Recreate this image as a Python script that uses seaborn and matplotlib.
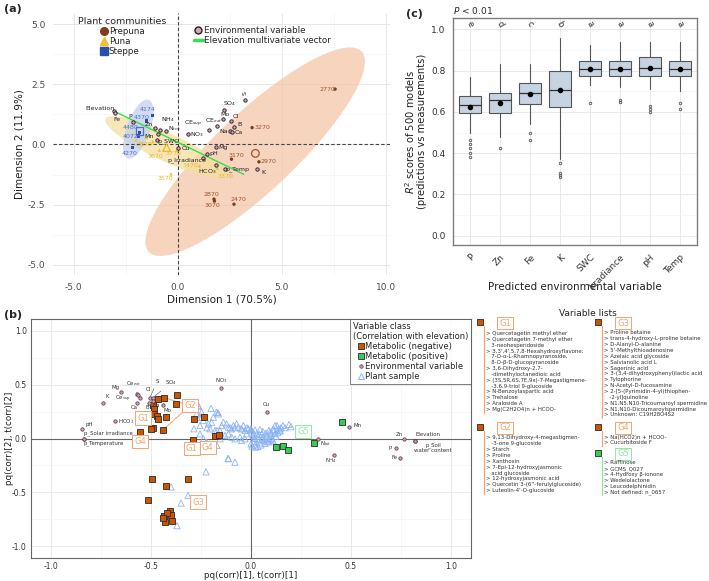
import numpy as np
import pandas as pd
import matplotlib
matplotlib.use("Agg")
import matplotlib.pyplot as plt
import seaborn as sns
from matplotlib.patches import Ellipse
from matplotlib.lines import Line2D
from matplotlib.ticker import MultipleLocator, FormatStrFormatter

# ---------------- panel (a): PCA biplot ----------------
a_env_names = ["Elevation", "Fe", "P", "Zn", "NH$_4$", "N$_{tot}$", "Mn", "p_SWC", "Cu", "Mg",
               "pH", "p_Irradiance", "HCO$_3$", "p_Temp", "K", "NO$_3$", "CE$_{sup}$", "CE$_{ext}$",
               "SO$_4$", "S", "Mo", "Cl", "B", "Na", "Ca"]
a_env_x = [-3.08, -3.0, -2.17, -1.08, -0.85, -0.56, -0.94, -1.0, 0.03, 1.82,
           1.39, 1.2, 1.82, 2.27, 3.81, 0.49, 1.5, 1.9,
           2.22, 3.25, 2.19, 2.54, 2.7, 2.5, 2.6]
a_env_y = [1.39, 1.3, 0.92, 0.67, 0.6, 0.56, 0.42, 0.18, -0.16, -0.09,
           -0.4, -0.56, -0.85, -1.02, -1.02, 0.42, 0.6, 0.78,
           1.43, 1.85, 1.06, 0.98, 0.74, 0.56, 0.52]

a_sample_names = ["2770", "3270", "3170", "2970", "2870", "3070", "2470",
                  "3370", "3470", "3570", "3670", "3770", "3870", "", "",
                  "4174", "4370", "4480", "4072", "4270"]
a_sample_x = [7.56, 3.57, 2.58, 3.9, 1.74, 1.76, 2.7,
              1.9, 1.04, -0.33, -0.89, -0.05, -2.0, -1.5, -1.2,
              -1.21, -1.5, -1.85, -1.9, -2.17]
a_sample_y = [2.3, 0.7, -0.61, -0.72, -2.27, -2.35, -2.48,
              -0.98, -0.89, -1.22, -0.23, -0.25, 0.19, 0.3, 0.12,
              1.2, 0.98, 0.5, 0.35, -0.13]
a_sample_group = ["Prepuna"] * 7 + ["Puna"] * 8 + ["Steppe"] * 5

a_centroid_group = ["Prepuna", "Puna", "Steppe"]
a_centroid_x = [3.73, -0.54, -1.85]
a_centroid_y = [-0.37, -0.13, 0.55]

# confidence ellipses: centre, half axes, angle
a_ell_cx = [3.72, -0.52, -1.9]
a_ell_cy = [-0.3, -0.12, 0.64]
a_ell_a = [6.6, 3.19, 1.32]
a_ell_b = [1.75, 0.6, 0.55]
a_ell_ang = [38.5, -21.6, 66.3]

elev_vec_x = [-3.08, 3.17]
elev_vec_y = [1.39, -1.24]

# ---------------- panel (b): OPLS loadings ----------------
b_env_names = ["pH", "p_Solar irradiance", "p_Temperature", "K", "Mg", "HCO$_3$", "Ce$_{ext}$",
               "Ce$_{sup}$", "Cl", "Ca", "S", "SO$_4$", "B", "Na", "Mo", "NO$_3$", "Cu",
               "Mn", "N$_{tot}$", "NH$_4$", "Zn", "Elevation", "p_Soil\nwater content", "P", "Fe"]
b_env_x = [-0.845, -0.835, -0.835, -0.74, -0.65, -0.68, -0.57,
           -0.565, -0.555, -0.57, -0.505, -0.49, -0.51, -0.49, -0.44, -0.15, 0.08,
           0.49, 0.335, 0.415, 0.765, 0.82, 0.82, 0.725, 0.745]
b_env_y = [0.09, 0.0, 0.0, 0.33, 0.43, 0.16, 0.41,
           0.4, 0.38, 0.33, 0.38, 0.38, 0.33, 0.35, 0.31, 0.47, 0.25,
           0.11, 0.0, -0.15, 0.0, -0.02, -0.02, -0.09, -0.18]

b_neg_x = [-0.465, -0.435, -0.37, -0.375, -0.49, -0.485, -0.485, -0.47, -0.465, -0.425,
           -0.44, -0.49, -0.5, -0.555, -0.285, -0.235, -0.29, -0.18, -0.16,
           -0.495, -0.425, -0.315, -0.515, -0.405, -0.435, -0.40, -0.43, -0.395, -0.42, -0.44]
b_neg_y = [0.37, 0.38, 0.40, 0.32, 0.31, 0.27, 0.23, 0.21, 0.18, 0.20,
           0.08, 0.10, 0.09, 0.06, 0.18, 0.20, -0.01, 0.02, 0.03,
           -0.38, -0.44, -0.38, -0.57, -0.67, -0.72, -0.71, -0.78, -0.77, -0.69, -0.74]
b_pos_x = [0.455, 0.315, 0.125, 0.16, 0.185]
b_pos_y = [0.15, -0.04, -0.08, -0.07, -0.11]

b_plant_x = [-0.263, -0.28, -0.247, -0.272, -0.255, -0.238, -0.213, -0.197, -0.188, -0.172,
             -0.163, -0.205, -0.18, -0.155, -0.147, -0.138, -0.122, -0.113, -0.097, -0.088,
             -0.072, -0.063, -0.047, -0.038, -0.03, -0.022, -0.113, -0.13, -0.147, -0.155,
             -0.097, -0.08, -0.055, -0.047, -0.03, -0.013, -0.285, -0.255, -0.238, -0.222,
             -0.238, -0.113, -0.265, -0.2, -0.165, -0.245, -0.255, -0.22, -0.17, -0.105,
             -0.08, -0.05, -0.02, 0.0, -0.17, -0.235, -0.115, -0.08, -0.225, -0.4,
             -0.315, -0.35, -0.37,
             0.005, 0.01, 0.012, 0.015, 0.02, 0.025, 0.03, 0.035, 0.04, 0.045,
             0.05, 0.055, 0.06, 0.065, 0.07, 0.075, 0.08, 0.085, 0.09, 0.095,
             0.1, 0.105, 0.11, 0.115, 0.12, 0.125, 0.13, 0.135, 0.14, 0.145,
             0.15, 0.02, 0.0, 0.005, 0.035, 0.06, 0.09, 0.11, 0.16, 0.13,
             0.0, 0.045, 0.07, 0.1, 0.02, 0.055, 0.04, 0.08, 0.015, 0.1,
             0.12, 0.145, 0.17, 0.19, 0.2]
b_plant_y = [0.305, 0.275, 0.244, 0.228, 0.197, 0.167, 0.136, 0.151, 0.197, 0.244,
             0.228, 0.09, 0.074, 0.074, 0.12, 0.151, 0.136, 0.105, 0.09, 0.12,
             0.136, 0.105, 0.09, 0.12, 0.074, 0.043, 0.043, 0.028, 0.028, -0.003,
             0.012, -0.003, 0.012, -0.019, -0.003, 0.09, 0.09, 0.043, -0.003, -0.034,
             -0.08, -0.188, 0.30, 0.28, 0.24, 0.2, 0.12, 0.1, 0.075, 0.1,
             0.1, 0.09, 0.1, 0.08, -0.065, -0.065, -0.185, -0.22, -0.31, -0.45,
             -0.53, -0.6, -0.81,
             0.06, 0.03, 0.0, -0.03, -0.06, -0.08, 0.05, 0.02, -0.01, -0.04,
             -0.06, 0.04, 0.01, -0.02, -0.045, 0.05, 0.02, -0.01, -0.03, 0.06,
             0.03, 0.0, -0.02, 0.07, 0.045, 0.02, 0.08, 0.055, 0.09, 0.07,
             0.1, 0.08, -0.05, -0.07, -0.075, 0.065, 0.075, 0.085, 0.12, 0.12,
             0.09, 0.085, 0.0, 0.05, 0.0, -0.01, 0.04, -0.03, 0.045, -0.01,
             0.12, 0.075, 0.1, 0.13, 0.11]

b_group_names = ["G1", "G2", "G4", "G1", "G4", "G3", "G5"]
b_group_x = [-0.54, -0.305, -0.555, -0.297, -0.217, -0.265, 0.262]
b_group_y = [0.19, 0.305, -0.03, -0.096, -0.08, -0.59, 0.068]
b_g2_links_x = [-0.435, -0.44, -0.235]
b_g2_links_y = [0.38, 0.08, 0.20]

# ---------------- panel (c): R2 boxplots ----------------
c_vars = ["P", "Zn", "Fe", "K", "SWC", "Irradiance", "pH", "Temp"]
c_q1 = [0.594, 0.594, 0.64, 0.625, 0.775, 0.775, 0.775, 0.775]
c_med = [0.634, 0.658, 0.69, 0.707, 0.81, 0.81, 0.812, 0.81]
c_q3 = [0.675, 0.69, 0.74, 0.80, 0.848, 0.848, 0.867, 0.848]
c_whislo = [0.50, 0.48, 0.54, 0.37, 0.73, 0.72, 0.71, 0.70]
c_whishi = [0.77, 0.83, 0.83, 0.96, 0.925, 0.94, 0.94, 0.94]
c_mean = [0.625, 0.645, 0.688, 0.705, 0.808, 0.81, 0.812, 0.81]
c_fliers = [[0.465, 0.445, 0.425, 0.40, 0.38], [0.427], [0.50, 0.465],
            [0.35, 0.305, 0.295, 0.285], [0.645], [0.66, 0.65], [0.63, 0.615, 0.60], [0.645, 0.615]]
c_letters = ["e", "d", "c", "b", "a", "a", "a", "a"]

# ---------------- variable lists ----------------
list_g1 = ["> Quercetagetin methyl ether", "> Quercetagetin 7-methyl ether", "   3-neohesperidoside",
           "> 3,3',4',5,7,8-Hexahydroxyflavone;", "   7-O-\u03b1-L-Rhamnopyranoside,",
           "   8-O-\u03b2-D-glucopyranoside", "> 3,6-Dihydroxy-2,7-", "   -dimethyloctanedioic acid",
           "> (3S,5R,6S,7E,9x)-7-Megastigmene-", "   -3,6,9-triol 9-glucoside",
           "> N-Benzoylaspartic acid", "> Trehalose", "> Araloside A", "> Mg(C2H2O4)n + HCOO-"]
list_g2 = ["> 9,13-Dihydroxy-4-megastigmen-", "   -3-one 9-glucoside", "> Starch", "> Proline",
           "> Xanthoxin", "> 7-Epi-12-hydroxyjasmonic", "   acid glucoside", "> 12-hydroxyjasmonic acid",
           "> Quercetin 3-(6''-ferulylglucoside)", "> Luteolin-4'-O-glucoside"]
list_g3 = ["> Proline betaine", "> trans-4-hydroxy-L-proline betaine", "> D-Alanyl-D-alanine",
           "> 5'-Methylthioadenosine", "> Azelaic acid glycoside", "> Salvianolic acid L",
           "> Sagerinic acid", "> 3-(3,4-dihydroxyphenyl)lactic acid", "> Tylophorine",
           "> N-Acetyl-D-fucosamine", "> 2-[5-(Pyrimidin-4-yl)thiophen-", "   -2-yl]quinoline",
           "> N1,N5,N10-Tricoumaroyl spermidine", "> N1,N10-Dicoumaroylspermidine",
           "> Unknown: C19H28O4S2"]
list_g4 = ["> Na(HCO2)n + HCOO-", "> Cucurbitoside F"]
list_g5 = ["> Raffinose", "> GCMS_Q027", "> 4-Hydroxy \u03b2-ionone", "> Wedelolactone",
           "> Leucodelphinidin", "> Not defined: n_0657"]

# ---------------- styling ----------------
sns.set_style("white")
plt.rcParams["font.family"] = ["DejaVu Sans"]
ORANGE = "#CC5500"
GREEN = "#33CC55"
ENV_FC = "#C9A0B4"
ENV_EC = "#5C2E48"
TRI = "#8CB4F5"
comm_pal = {"Prepuna": "#7B3F1F", "Puna": "#F0C030", "Steppe": "#2A4FA8"}
comm_lab = {"Prepuna": "#A0522D", "Puna": "#E8B923", "Steppe": "#4A6FD0"}
comm_ell = {"Prepuna": "#F3C6A8", "Puna": "#F5E0A0", "Steppe": "#C3D0EC"}
comm_mark = {"Prepuna": "o", "Puna": "^", "Steppe": "s"}

W, H = 709, 581
fig = plt.figure(figsize=(W / 100, H / 100), dpi=100)


def rect(l, t, r, b):
    return [l / W, 1 - b / H, (r - l) / W, (b - t) / H]


# ======== panel (a) ========
ax = fig.add_axes(rect(53, 13, 390, 275))
ax.set_xlim(-6.0, 10.2)
ax.set_ylim(-5.42, 5.46)
for s in ax.spines.values():
    s.set_visible(False)
ax.xaxis.set_major_locator(MultipleLocator(5))
ax.xaxis.set_minor_locator(MultipleLocator(2.5))
ax.yaxis.set_major_locator(MultipleLocator(2.5))
ax.yaxis.set_minor_locator(MultipleLocator(1.25))
ax.xaxis.set_major_formatter(FormatStrFormatter("%.1f"))
ax.yaxis.set_major_formatter(FormatStrFormatter("%.1f"))
ax.grid(which="major", color="#E3E3E3", lw=0.6)
ax.grid(which="minor", color="#F2F2F2", lw=0.4)
ax.set_axisbelow(True)
ax.tick_params(which="major", labelsize=6.5, labelcolor="#4D4D4D", length=2, color="#4D4D4D", width=0.5)
ax.tick_params(which="minor", length=0)

for g, cx, cy, ea, eb, ang in zip(a_centroid_group, a_ell_cx, a_ell_cy, a_ell_a, a_ell_b, a_ell_ang):
    ax.add_patch(Ellipse((cx, cy), 2 * ea, 2 * eb, angle=ang, facecolor=comm_ell[g],
                         edgecolor="none", alpha=0.75, zorder=1))

ax.axhline(0, color="#444444", ls=(0, (3, 2)), lw=0.8, zorder=2)
ax.axvline(0, color="#444444", ls=(0, (3, 2)), lw=0.8, zorder=2)

ax.plot(elev_vec_x, elev_vec_y, color="#33E04D", lw=1.0, zorder=3)

df_s = pd.DataFrame({"x": a_sample_x, "y": a_sample_y, "g": a_sample_group})
sns.scatterplot(data=df_s, x="x", y="y", hue="g", style="g", palette=comm_pal, markers=comm_mark,
                s=6, linewidth=0, legend=False, ax=ax, zorder=4)
df_c = pd.DataFrame({"x": a_centroid_x, "y": a_centroid_y, "g": a_centroid_group})
for g, sub in df_c.groupby("g"):
    ax.scatter(sub.x, sub.y, marker=comm_mark[g], s=30, facecolor="none",
               edgecolor=comm_lab[g], linewidth=0.9, zorder=4)

df_e = pd.DataFrame({"x": a_env_x, "y": a_env_y})
sns.scatterplot(data=df_e, x="x", y="y", s=6, color=ENV_FC, edgecolor="#2B1B25",
                linewidth=0.6, legend=False, ax=ax, zorder=5)

a_env_off = [(-14, 3), (2, -6), (-2, 6), (-6, 4), (8, 10), (8, 2), (-9, -2), (11, -1), (7, 0), (7, -1),
             (7, 1), (-16, -2), (-8, -7), (12, 0), (6, -3), (9, 0), (-16, 6), (-4, 5),
             (6, 6), (0, 7), (2, 4), (5, 4), (6, 2), (-6, -1), (7, -1)]
for n, x, y, off in zip(a_env_names, a_env_x, a_env_y, a_env_off):
    rot = 90 if n == "S" else 0
    ax.annotate(n, (x, y), xytext=off, textcoords="offset pixels", ha="center", va="center",
                fontsize=4.5, color="#222222", rotation=rot, zorder=6)

a_sample_off = [(-8, 0), (10, 0), (5, 4), (9, 0), (-3, 5), (-2, -4), (4, 5),
                (8, -8), (-9, 0), (-6, -5), (-4, -6), (-3, -3), (8, -5), (0, 0), (0, 0),
                (-5, 6), (-5, 3), (-9, 5), (-8, 0), (-3, -6)]
for n, x, y, g, off in zip(a_sample_names, a_sample_x, a_sample_y, a_sample_group, a_sample_off):
    if n:
        ax.annotate(n, (x, y), xytext=off, textcoords="offset pixels", ha="center", va="center",
                    fontsize=4.5, color=comm_lab[g], zorder=6)

ax.set_xlabel("Dimension 1 (70.5%)", fontsize=7.5, color="#222222", labelpad=2)
ax.set_ylabel("Dimension 2 (11.9%)", fontsize=7.5, color="#222222", labelpad=2)

h1 = [Line2D([], [], ls="", marker=comm_mark[g], ms=5.5, mfc=comm_pal[g], mec=comm_pal[g]) for g in a_centroid_group]
leg1 = ax.legend(h1, a_centroid_group, title="Plant communities", loc="upper left",
                 bbox_to_anchor=(0.055, 1.01), frameon=False, fontsize=6.3, title_fontsize=6.8,
                 handletextpad=0.1, handlelength=1.0, labelspacing=0.15, borderpad=0.2)
ax.add_artist(leg1)
h2 = [Line2D([], [], ls="", marker="o", ms=5, mfc="#D4A6BB", mec="#2B1B25", mew=1.0),
      Line2D([], [], color="#33E04D", lw=2.5)]
ax.legend(h2, ["Environmental variable", "Elevation multivariate vector"], loc="upper left",
          bbox_to_anchor=(0.4, 0.975), frameon=False, fontsize=6.3, handletextpad=0.2,
          handlelength=1.0, labelspacing=0.15, borderpad=0.2)

# ======== panel (c) ========
axc = fig.add_axes(rect(453, 18, 697, 245))
stats = []
for i in range(len(c_vars)):
    stats.append(dict(med=c_med[i], q1=c_q1[i], q3=c_q3[i], whislo=c_whislo[i],
                      whishi=c_whishi[i], mean=c_mean[i], fliers=c_fliers[i], label=c_vars[i]))
axc.bxp(stats, positions=range(len(c_vars)), widths=0.75, patch_artist=True, showmeans=True,
        showcaps=False,
        boxprops=dict(facecolor="#C6D4E1", edgecolor="#555555", lw=0.8),
        medianprops=dict(color="#333333", lw=0.9),
        whiskerprops=dict(color="#555555", lw=0.8),
        flierprops=dict(marker="o", ms=1.8, mfc="none", mec="#555555", mew=0.6),
        meanprops=dict(marker="o", ms=3, mfc="black", mec="black"))
axc.set_xlim(-0.57, 7.57)
axc.set_ylim(-0.045, 1.055)
axc.yaxis.set_major_locator(MultipleLocator(0.2))
axc.yaxis.set_minor_locator(MultipleLocator(0.1))
axc.yaxis.set_major_formatter(FormatStrFormatter("%.1f"))
axc.grid(which="major", color="#E5E5E5", lw=0.6)
axc.grid(which="minor", axis="y", color="#F2F2F2", lw=0.4)
axc.set_axisbelow(True)
for s in axc.spines.values():
    s.set_color("#7F7F7F")
    s.set_linewidth(1.0)
axc.set_xticks(range(len(c_vars)))
axc.set_xticklabels(c_vars, rotation=45, ha="right", rotation_mode="anchor")
axc.tick_params(labelsize=6.5, labelcolor="#333333", length=2, color="#555555", width=0.5)
axc.tick_params(which="minor", length=0)
for i, l in enumerate(c_letters):
    axc.text(i, 1.025, l, rotation=-60, ha="center", va="center", fontsize=6, color="#333333")
axc.text(0, 1.065, "$P$ < 0.01", transform=axc.get_yaxis_transform(), ha="left", va="bottom", fontsize=6.5)
axc.set_ylabel("$R^2$ scores of 500 models\n(predictions vs measurements)", fontsize=7.2,
               color="#222222", labelpad=3, linespacing=0.95)
axc.set_xlabel("Predicted environmental variable", fontsize=7.5, color="#222222")
axc.xaxis.set_label_coords(0.5, -0.165)

# ======== panel (b) ========
axb = fig.add_axes(rect(31, 319, 471, 558))
axb.set_xlim(-1.1, 1.1)
axb.set_ylim(-1.11, 1.11)
axb.xaxis.set_major_locator(MultipleLocator(0.5))
axb.xaxis.set_minor_locator(MultipleLocator(0.25))
axb.yaxis.set_major_locator(MultipleLocator(0.5))
axb.yaxis.set_minor_locator(MultipleLocator(0.25))
axb.xaxis.set_major_formatter(FormatStrFormatter("%.1f"))
axb.yaxis.set_major_formatter(FormatStrFormatter("%.1f"))
axb.grid(which="major", color="#E5E5E5", lw=0.6)
axb.grid(which="minor", color="#F2F2F2", lw=0.4)
axb.set_axisbelow(True)
for s in axb.spines.values():
    s.set_color("#666666")
    s.set_linewidth(0.8)
axb.tick_params(which="major", labelsize=5.5, labelcolor="#333333", length=2, color="#555555",
                width=0.5, pad=1.0)
axb.tick_params(which="minor", length=0)
axb.axhline(0, color="#666666", lw=0.8, zorder=1)
axb.axvline(0, color="#666666", lw=0.8, zorder=1)

df_p = pd.DataFrame({"x": b_plant_x, "y": b_plant_y})
sns.scatterplot(data=df_p, x="x", y="y", marker="^", s=20, facecolor="none", edgecolor=TRI,
                linewidth=0.6, legend=False, ax=axb, zorder=2)

for lx, ly in zip(b_g2_links_x, b_g2_links_y):
    axb.plot([b_group_x[1], lx], [b_group_y[1], ly], color="#F4A46E", lw=0.7, zorder=3)

df_n = pd.DataFrame({"x": b_neg_x, "y": b_neg_y})
sns.scatterplot(data=df_n, x="x", y="y", marker="s", s=24, color=ORANGE, edgecolor="#2B2B2B",
                linewidth=0.6, legend=False, ax=axb, zorder=4)
df_pos = pd.DataFrame({"x": b_pos_x, "y": b_pos_y})
sns.scatterplot(data=df_pos, x="x", y="y", marker="s", s=24, color=GREEN, edgecolor="#2B2B2B",
                linewidth=0.6, legend=False, ax=axb, zorder=4)
df_be = pd.DataFrame({"x": b_env_x, "y": b_env_y})
sns.scatterplot(data=df_be, x="x", y="y", s=6, color=ENV_FC, edgecolor=ENV_EC,
                linewidth=0.5, legend=False, ax=axb, zorder=5)

b_env_off = [(7, 4), (24, 5), (20, -5), (4, 6), (-5, 5), (11, 0), (-3, 11),
             (-15, -3), (8, 8), (-3, -5), (7, 16), (18, 15), (-2, -5), (3, -5), (4, -5), (0, 7), (-1, 7),
             (9, 1), (8, -5), (-3, -6), (-5, 4), (13, 6), (18, -7), (-6, 0), (-6, 0)]
leader = {"Ce$_{ext}$", "S", "SO$_4$", "Cl", "Ce$_{sup}$"}
for n, x, y, off in zip(b_env_names, b_env_x, b_env_y, b_env_off):
    ap = dict(arrowstyle="-", lw=0.4, color="#555555", shrinkA=1, shrinkB=1) if n in leader else None
    axb.annotate(n, (x, y), xytext=off, textcoords="offset pixels", ha="center", va="center",
                 fontsize=3.9, color="#333333", arrowprops=ap, zorder=6, linespacing=0.9)

for n, x, y in zip(b_group_names, b_group_x, b_group_y):
    col = "#8CEB9C" if n == "G5" else "#F4A46E"
    axb.text(x, y, n, ha="center", va="center", fontsize=6, color=col, zorder=7,
             bbox=dict(boxstyle="square,pad=0.25", fc="white", ec=col, lw=0.7))

axb.set_xlabel("pq(corr)[1], t(corr)[1]", fontsize=6.3, color="#222222")
axb.set_ylabel("pq(corr)[2], t(corr)[2]", fontsize=6.3, color="#222222")
axb.xaxis.set_label_coords(0.5, -0.054)
axb.yaxis.set_label_coords(-0.038, 0.5)

hb = [Line2D([], [], ls="", marker="s", ms=5, mfc=ORANGE, mec="#2B2B2B", mew=0.6),
      Line2D([], [], ls="", marker="s", ms=5, mfc=GREEN, mec="#2B2B2B", mew=0.6),
      Line2D([], [], ls="", marker="o", ms=2.5, mfc=ENV_FC, mec=ENV_EC, mew=0.5),
      Line2D([], [], ls="", marker="^", ms=5, mfc="none", mec=TRI, mew=0.7)]
legb = axb.legend(hb, ["Metabolic (negative)", "Metabolic (positive)", "Environmental variable", "Plant sample"],
                  title="Variable class\n(Correlation with elevation)", loc="upper right",
                  borderaxespad=0, fontsize=6.0, title_fontsize=6.0, frameon=True, fancybox=False,
                  edgecolor="#444444", handletextpad=0.1, handlelength=0.8, labelspacing=0.12,
                  borderpad=0.35)
legb.get_frame().set_linewidth(0.6)

# ======== overlay: panel tags and variable lists ========
ov = fig.add_axes([0, 0, 1, 1])
ov.set_xlim(0, W)
ov.set_ylim(H, 0)
ov.axis("off")
ov.patch.set_visible(False)
ov.text(4, 9, "(a)", fontsize=8, fontweight="bold", va="center")
ov.text(4, 315, "(b)", fontsize=8, fontweight="bold", va="center")
ov.text(406, 14, "(c)", fontsize=8, fontweight="bold", va="center")
ov.text(588, 313, "Variable lists", fontsize=6.5, ha="center", va="center", color="#222222")

step = 5.85
blocks = [(480, 322, 333.5, "G1", list_g1, ORANGE, "#F4A46E"),
          (480, 427, 438.0, "G2", list_g2, ORANGE, "#F4A46E"),
          (598, 322, 333.0, "G3", list_g3, ORANGE, "#F4A46E"),
          (598, 427, 437.0, "G4", list_g4, ORANGE, "#F4A46E"),
          (598, 453, 463.0, "G5", list_g5, GREEN, "#8CEB9C")]
for sx, sy, ty, tag, lines, sq, lc in blocks:
    ov.scatter([sx], [sy], marker="s", s=22, color=sq, edgecolor="#2B2B2B", linewidth=0.6)
    ov.plot([sx + 4, sx + 4], [sy + 4, ty + step * (len(lines) - 1) + 3], color=lc, lw=0.9)
    ov.text(sx + 25, sy + 1, tag, fontsize=6, color=lc, ha="center", va="center",
            bbox=dict(boxstyle="square,pad=0.2", fc="white", ec=lc, lw=0.7))
    for k, line in enumerate(lines):
        ov.text(sx + 6, ty + k * step, line, fontsize=3.9, color="#333333", ha="left", va="center")

fig.savefig("out.png", dpi=100, facecolor="white")
